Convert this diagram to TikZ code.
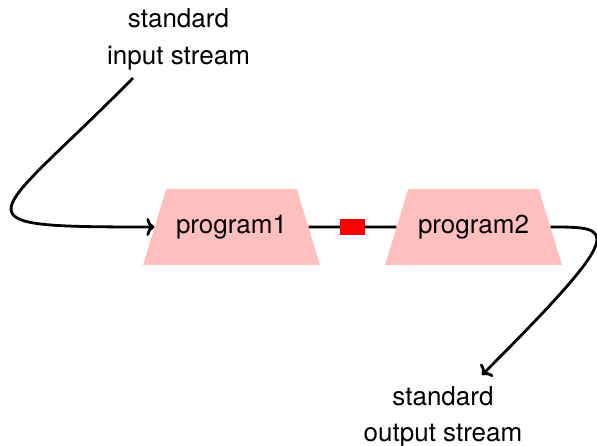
\documentclass[tikz,border=0pt]{standalone}
\usepackage{fontspec}
\setmainfont{TeX Gyre Heros}
\usetikzlibrary{shapes.geometric,arrows.meta}
\begin{document}
\begin{tikzpicture}[x=1pt,y=-1pt,
  prog/.style={trapezium, trapezium left angle=73, trapezium right angle=73,
    text width=111pt, align=center, text height=18.5pt, text depth=5pt,
    inner xsep=9.75pt, inner ysep=26.25pt,
    fill=red!25, font=\fontsize{26}{31}\selectfont},
  lab/.style={align=center, inner sep=0pt, font=\fontsize{26}{36.5}\selectfont},
  conn/.style={line width=2.8pt},
  tip/.style={-{To[length=8pt,width=18pt]}},
  pipebox/.style={fill=red, minimum width=25pt, minimum height=16pt, inner sep=0pt}]
\useasboundingbox (0,0) rectangle (597,446);
\node[lab] (inlab) at (178.5,39.5) {standard\\input stream};
\node[lab] (outlab) at (443,417) {standard\\output stream};
\node[prog] (p1) at (231.5,227) {program1};
\node[prog] (p2) at (473.5,227) {program2};
\draw[conn] (p1) -- node[pipebox, midway] (pipe) {} (p2);
\draw[conn,tip] ([shift={(-45.5pt,-38.5pt)}]inlab.center) .. controls (-10,223) and (-55,227) .. (p1);
\draw[conn,tip] (p2) .. controls (614,227) and (630,227) .. ([shift={(39pt,42pt)}]outlab.center);
\end{tikzpicture}
\end{document}
